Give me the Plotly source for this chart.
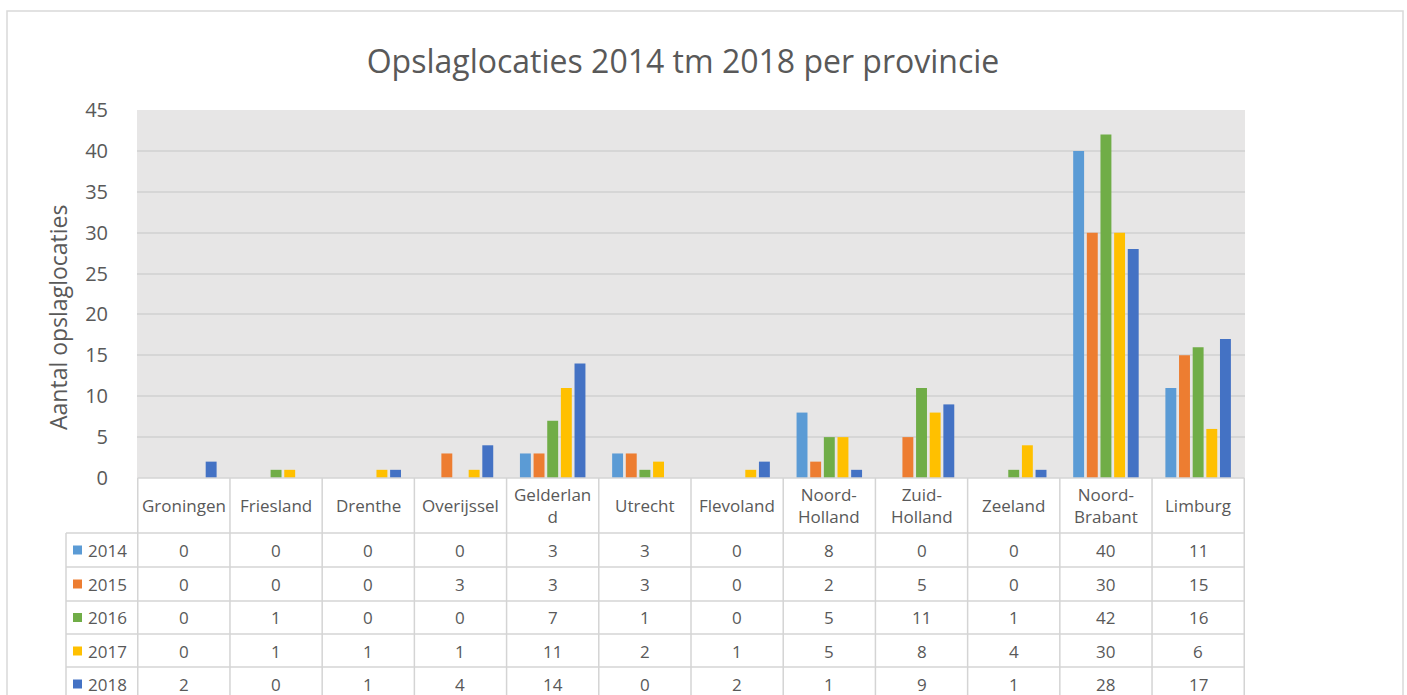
import plotly.graph_objects as go

categories = ["Groningen", "Friesland", "Drenthe", "Overijssel", "Gelderland", "Utrecht",
              "Flevoland", "Noord-Holland", "Zuid-Holland", "Zeeland", "Noord-Brabant", "Limburg"]
category_labels = ["Groningen", "Friesland", "Drenthe", "Overijssel", "Gelderlan<br>d", "Utrecht",
                   "Flevoland", "Noord-<br>Holland", "Zuid-<br>Holland", "Zeeland", "Noord-<br>Brabant", "Limburg"]
years = ["2014", "2015", "2016", "2017", "2018"]
v2014 = [0, 0, 0, 0, 3, 3, 0, 8, 0, 0, 40, 11]
v2015 = [0, 0, 0, 3, 3, 3, 0, 2, 5, 0, 30, 15]
v2016 = [0, 1, 0, 0, 7, 1, 0, 5, 11, 1, 42, 16]
v2017 = [0, 1, 1, 1, 11, 2, 1, 5, 8, 4, 30, 6]
v2018 = [2, 0, 1, 4, 14, 0, 2, 1, 9, 1, 28, 17]
series = [v2014, v2015, v2016, v2017, v2018]
colors = ["#5B9BD5", "#ED7D31", "#70AD47", "#FFC000", "#4472C4"]

W, H = 1407, 695
L, R, T, B = 137, 1245, 110, 478
TXT = "#595959"
GRID = "#D4D4D4"
FONT = "Open Sans"

def px(p):
    return (p - L) / (R - L)

def py(p):
    return (B - p) / (B - T)

fig = go.Figure()
for yr, vals, c in zip(years, series, colors):
    fig.add_trace(go.Bar(x=categories, y=vals, name=yr, marker=dict(color=c, line=dict(width=0))))

shapes = []
annotations = []

# chart outer border
shapes.append(dict(type="rect", xref="paper", yref="paper", x0=px(7), x1=px(1403), y0=py(760), y1=py(11),
                   line=dict(color="#D9D9D9", width=1.5), fillcolor="rgba(0,0,0,0)", layer="below"))

# table lines
row_edges = [533, 567, 601, 634, 667]
row_centers = [550, 584, 617.5, 651, 684]
n = len(categories)
for i in range(n + 1):
    shapes.append(dict(type="line", xref="x", yref="paper", x0=i - 0.5, x1=i - 0.5,
                       y0=py(478), y1=py(760), line=dict(color=GRID, width=1.5)))
shapes.append(dict(type="line", xref="paper", yref="paper", x0=px(66), x1=px(66),
                   y0=py(533), y1=py(760), line=dict(color=GRID, width=1.5)))
shapes.append(dict(type="line", xref="x", yref="paper", x0=-0.5, x1=n - 0.5,
                   y0=py(478), y1=py(478), line=dict(color=GRID, width=1.5)))
for e in row_edges:
    shapes.append(dict(type="line", xref="paper", yref="paper", x0=px(66), x1=1,
                       y0=py(e), y1=py(e), line=dict(color=GRID, width=1.5)))

# category labels
for cat, lab in zip(categories, category_labels):
    annotations.append(dict(x=cat, y=py(505.5), xref="x", yref="paper", text=lab, showarrow=False,
                            font=dict(family=FONT, size=17, color=TXT), yanchor="middle", xanchor="center"))

# table values and legend keys
for yr, vals, c, yc in zip(years, series, colors, row_centers):
    for cat, v in zip(categories, vals):
        annotations.append(dict(x=cat, y=py(yc), xref="x", yref="paper", text=str(v), showarrow=False,
                                font=dict(family=FONT, size=17, color=TXT), yanchor="middle", xanchor="center"))
    shapes.append(dict(type="rect", xref="paper", yref="paper", x0=px(73), x1=px(82),
                       y0=py(yc + 4.5), y1=py(yc - 4.5), fillcolor=c, line=dict(width=0)))
    annotations.append(dict(x=px(86), y=py(yc), xref="paper", yref="paper", text=yr, showarrow=False,
                            font=dict(family=FONT, size=17, color=TXT), yanchor="middle", xanchor="left"))

# y axis title
annotations.append(dict(x=px(58), y=py(318), xref="paper", yref="paper", text="Aantal opslaglocaties",
                        textangle=-90, showarrow=False, xanchor="center", yanchor="middle",
                        font=dict(family=FONT, size=23, color=TXT)))

fig.update_layout(
    width=W, height=H,
    margin=dict(l=L, r=W - R, t=T, b=H - B),
    paper_bgcolor="white",
    plot_bgcolor="#E7E6E6",
    barmode="group",
    bargap=0.26,
    bargroupgap=0.2,
    showlegend=False,
    title=dict(text="Opslaglocaties 2014 tm 2018 per provincie", x=683 / W, xanchor="center",
               y=1 - 62 / H, yanchor="middle", font=dict(family=FONT, size=32, color=TXT)),
    font=dict(family=FONT, color=TXT),
    xaxis=dict(showticklabels=False, showgrid=False, zeroline=False, showline=False),
    yaxis=dict(range=[0, 45], dtick=5, tickfont=dict(size=20, color=TXT), showgrid=True,
               gridcolor="#D6D6D6", gridwidth=1.5, zeroline=False, showline=False,
               ticks="outside", ticklen=24, tickcolor="rgba(0,0,0,0)"),
    shapes=shapes,
    annotations=annotations,
)

fig.write_html("out.html", config={"displayModeBar": False},
               post_script="document.body.style.margin='0';document.body.style.padding='0';")
